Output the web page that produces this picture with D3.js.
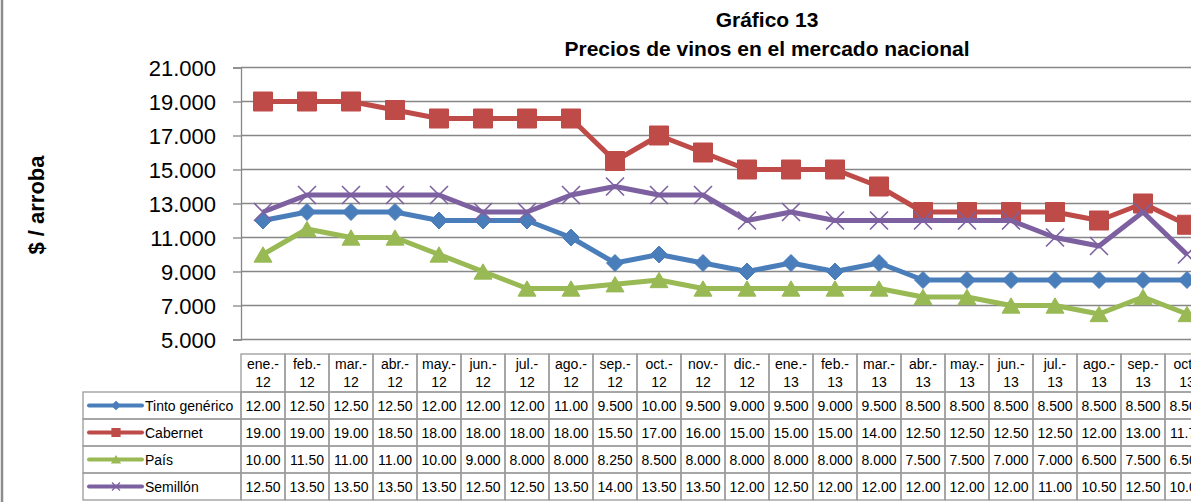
<!DOCTYPE html>
<html>
<head>
<meta charset="utf-8">
<script src="https://cdn.jsdelivr.net/npm/d3@7"></script>
<style>
  html, body { margin: 0; padding: 0; background: #fff; overflow: hidden; }
  svg { display: block; font-family: "Liberation Sans", Arial, sans-serif; }
</style>
</head>
<body>
<svg id="chart" width="1191" height="502"></svg>
<script>
// ---- data ----
const categories = ["ene.-12","feb.-12","mar.-12","abr.-12","may.-12","jun.-12","jul.-12","ago.-12","sep.-12","oct.-12","nov.-12","dic.-12",
                    "ene.-13","feb.-13","mar.-13","abr.-13","may.-13","jun.-13","jul.-13","ago.-13","sep.-13","oct.-13"];
const tintoGenerico = [12.00,12.50,12.50,12.50,12.00,12.00,12.00,11.00,9.500,10.00,9.500,9.000,9.500,9.000,9.500,8.500,8.500,8.500,8.500,8.500,8.500,8.500];
const cabernet      = [19.00,19.00,19.00,18.50,18.00,18.00,18.00,18.00,15.50,17.00,16.00,15.00,15.00,15.00,14.00,12.50,12.50,12.50,12.50,12.00,13.00,11.75];
const pais          = [10.00,11.50,11.00,11.00,10.00,9.000,8.000,8.000,8.250,8.500,8.000,8.000,8.000,8.000,8.000,7.500,7.500,7.000,7.000,6.500,7.500,6.500];
const semillon      = [12.50,13.50,13.50,13.50,13.50,12.50,12.50,13.50,14.00,13.50,13.50,12.00,12.50,12.00,12.00,12.00,12.00,12.00,11.00,10.50,12.50,10.00];
const seriesNames   = ["Tinto genérico","Cabernet","País","Semillón"];
const yTickValues   = [5,7,9,11,13,15,17,19,21];
const yTickLabels   = ["5.000","7.000","9.000","11.000","13.000","15.000","17.000","19.000","21.000"];
const titleLines    = ["Gráfico 13","Precios de vinos en el mercado nacional"];
const yAxisTitle    = "$ / arroba";

// ---- styles ----
const colors  = ["#4A7EBB","#BE4B48","#98B954","#7D60A0"];
const markers = ["diamond","square","triangle","x"];
const series = seriesNames.map((n,i)=>({name:n, values:[tintoGenerico,cabernet,pais,semillon][i], color:colors[i], marker:markers[i]}));

const svg = d3.select("#chart");
const plotLeft = 241, colW = 44;
const x = d3.scaleBand().domain(categories).range([plotLeft, plotLeft + colW*categories.length]);
const y = d3.scaleLinear().domain([5,21]).range([339.5, 67.5]);
const plotRight = plotLeft + colW*categories.length;
const grid = "#878787";

// left border of chart area
svg.append("line").attr("x1",2).attr("x2",2).attr("y1",0).attr("y2",502).attr("stroke","#8c8c8c").attr("stroke-width",2.5);

// titles
svg.append("text").attr("x",767).attr("y",27).attr("text-anchor","middle").attr("font-weight","bold").attr("font-size",21).text(titleLines[0]);
svg.append("text").attr("x",767).attr("y",56).attr("text-anchor","middle").attr("font-weight","bold").attr("font-size",21).text(titleLines[1]);

// y axis title
svg.append("text").attr("transform","translate(44,205) rotate(-90)").attr("text-anchor","middle")
  .attr("font-weight","bold").attr("font-size",22).text(yAxisTitle);

// gridlines
svg.append("g").selectAll("line").data(yTickValues).join("line")
  .attr("x1",plotLeft).attr("x2",plotRight)
  .attr("y1",d=>y(d)).attr("y2",d=>y(d))
  .attr("stroke",grid).attr("stroke-width",1.3);

// y axis
const yAxis = d3.axisLeft(y).tickValues(yTickValues).tickFormat((d,i)=>yTickLabels[i]).tickSize(8).tickPadding(17);
const ga = svg.append("g").attr("transform",`translate(${plotLeft},0)`).call(yAxis);
ga.select(".domain").attr("stroke",grid).attr("stroke-width",1.3);
ga.selectAll(".tick line").attr("stroke",grid).attr("stroke-width",1.3);
ga.selectAll(".tick text").attr("font-size",22).attr("fill","#000").attr("font-family","Liberation Sans, Arial, sans-serif").attr("dy","0.36em");

// marker symbols
function markerPath(type, s){
  if(type==="diamond"){ const r=s/2; return `M0,${-r}L${r},0L0,${r}L${-r},0Z`; }
  if(type==="square"){ const r=s/2; return `M${-r},${-r}H${r}V${r}H${-r}Z`; }
  if(type==="triangle"){ const r=s/2; return `M0,${-r*0.85}L${r},${r*0.85}L${-r},${r*0.85}Z`; }
  if(type==="x"){ const r=s/2; return `M${-r},${-r}L${r},${r}M${-r},${r}L${r},${-r}`; }
}
const markerSize = {diamond:17, square:19, triangle:18, x:18};

const line = d3.line().x((d,i)=>x(categories[i])+x.bandwidth()/2).y(d=>y(d));
const gs = svg.append("g").selectAll("g").data(series).join("g");
gs.append("path").attr("d",d=>line(d.values)).attr("fill","none").attr("stroke",d=>d.color)
  .attr("stroke-width",5).attr("stroke-linejoin","round");
gs.each(function(s){
  d3.select(this).selectAll("path.m").data(s.values).join("path").attr("class","m")
    .attr("transform",(d,i)=>`translate(${x(categories[i])+x.bandwidth()/2},${y(d)})`)
    .attr("d",markerPath(s.marker, markerSize[s.marker]))
    .attr("fill", s.marker==="x" ? "none" : s.color)
    .attr("stroke", s.color).attr("stroke-width", s.marker==="x" ? 1.6 : 1);
});

// ---- data table ----
const tb = "#9a9a9a";
const headTop = 354, headBot = 392, rowH = 27, legLeft = 83;
const tg = svg.append("g").attr("font-size",14).attr("fill","#000");
// header cells
categories.forEach((c,i)=>{
  const x0 = x(c);
  tg.append("rect").attr("x",x0).attr("y",headTop).attr("width",colW).attr("height",headBot-headTop)
    .attr("fill","none").attr("stroke",tb).attr("stroke-width",1.3);
  const m = c.match(/^(.*-)(\d+)$/);
  tg.append("text").attr("x",x0+colW/2).attr("y",369).attr("text-anchor","middle").text(m[1]);
  tg.append("text").attr("x",x0+colW/2).attr("y",387).attr("text-anchor","middle").text(m[2]);
});
function fmt(v){ return v>=10 ? v.toFixed(2) : v.toFixed(3); }
series.forEach((s,r)=>{
  const y0 = headBot + r*rowH;
  tg.append("rect").attr("x",legLeft).attr("y",y0).attr("width",plotLeft-legLeft).attr("height",rowH)
    .attr("fill","none").attr("stroke",tb).attr("stroke-width",1.3);
  tg.append("line").attr("x1",89).attr("x2",142).attr("y1",y0+13.5).attr("y2",y0+13.5)
    .attr("stroke",s.color).attr("stroke-width",4).attr("stroke-linecap","round");
  tg.append("path").attr("transform",`translate(116,${y0+13.5})`).attr("d",markerPath(s.marker,8))
    .attr("fill", s.marker==="x" ? "none" : s.color).attr("stroke",s.color).attr("stroke-width",1.2);
  tg.append("text").attr("x",145).attr("y",y0+18.5).text(s.name);
  s.values.forEach((v,i)=>{
    const x0 = x(categories[i]);
    tg.append("rect").attr("x",x0).attr("y",y0).attr("width",colW).attr("height",rowH)
      .attr("fill","none").attr("stroke",tb).attr("stroke-width",1.3);
    tg.append("text").attr("x",x0+colW/2).attr("y",y0+18.5).attr("text-anchor","middle").text(fmt(v));
  });
});
</script>
</body>
</html>
